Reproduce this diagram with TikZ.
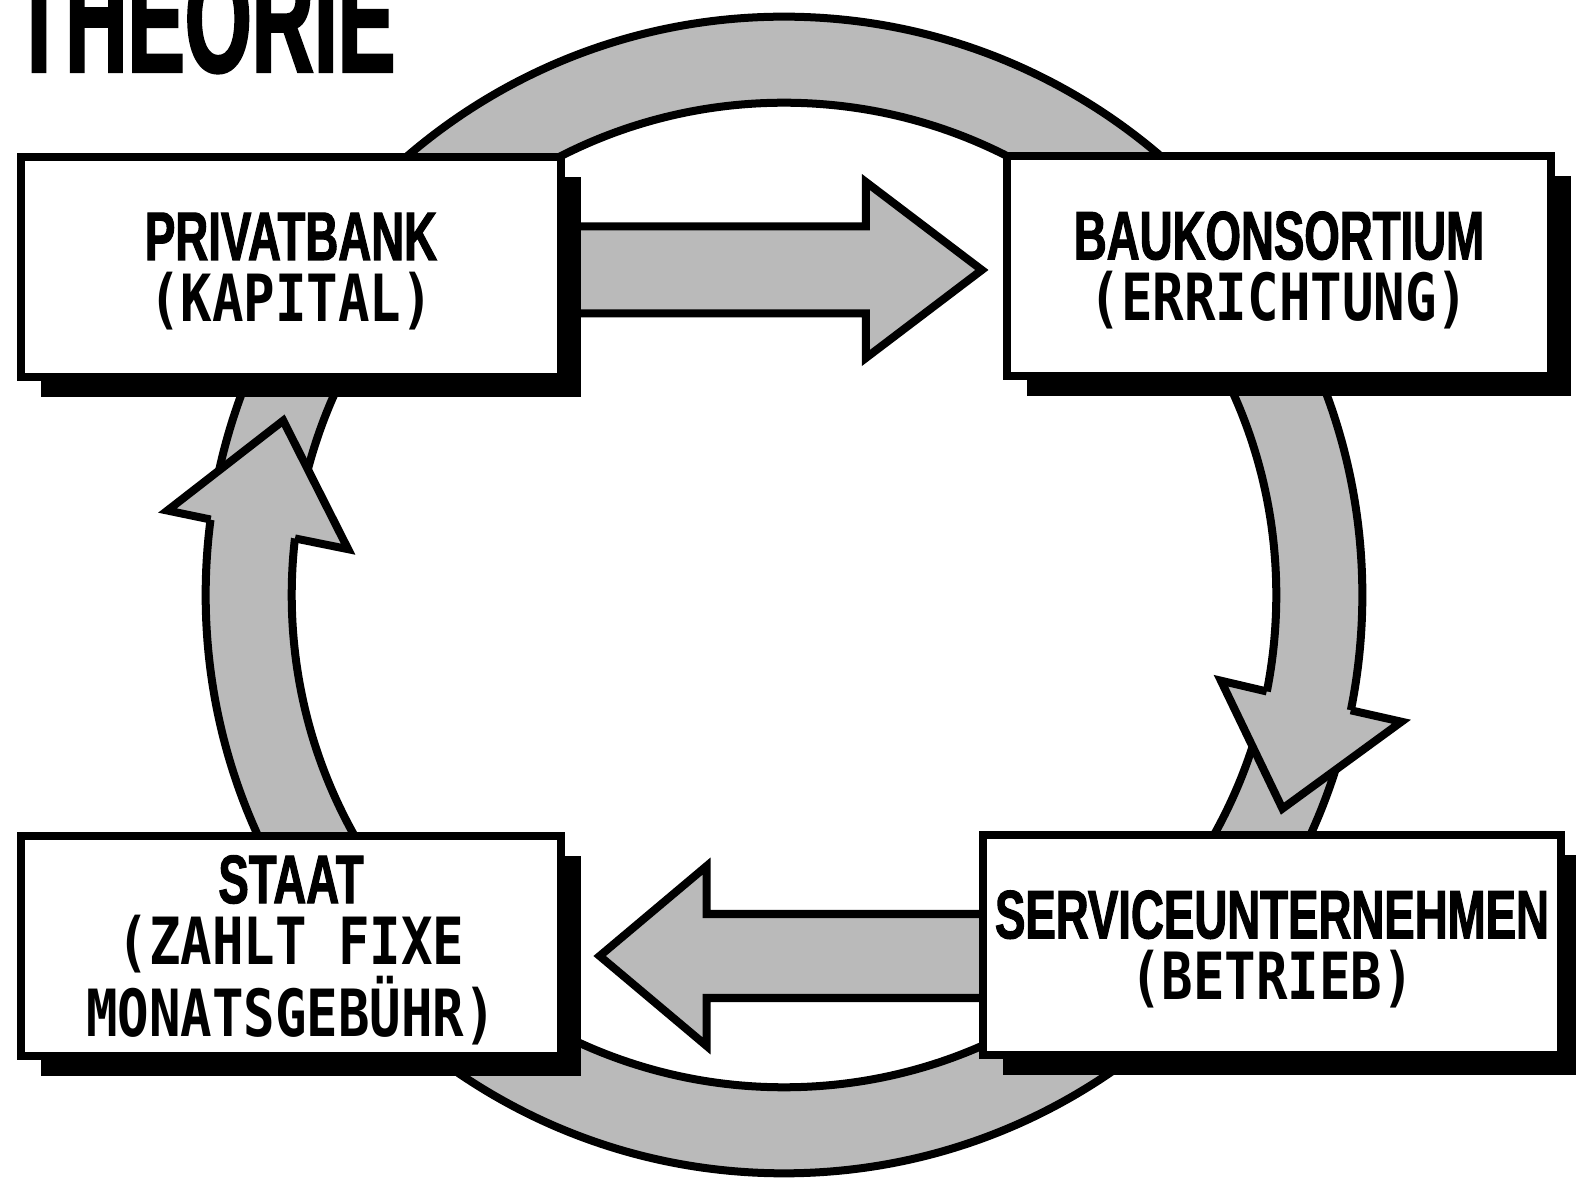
\documentclass[tikz,border=0pt]{standalone}
\usepackage{fontspec}
\newfontfamily\titelfamilie[FakeStretch=0.56,FakeBold=1.5]{Liberation Sans}
\newfontfamily\kopffamilie[FakeStretch=0.665,FakeBold=1.5]{Liberation Sans}
\newfontfamily\klammerfamilie[FakeStretch=0.805]{DejaVu Sans Mono}
\usetikzlibrary{calc,shadows,backgrounds}
\newcommand\kopf[1]{{\kopffamilie\bfseries\fontsize{19.5pt}{17.4pt}\selectfont #1}}
\newcommand\klammer[1]{{\klammerfamilie\bfseries\fontsize{18.5pt}{17.4pt}\selectfont #1}}
\begin{document}
\begin{tikzpicture}[x=0.01cm,y=-0.01cm,
    kasten/.style={draw, line width=0.08cm, fill=white, minimum height=2.2cm, align=center,
      text depth=0pt, font=\fontsize{18pt}{17.4pt}\selectfont,
      drop shadow={shadow xshift=0.2cm, shadow yshift=-0.2cm, fill=black, opacity=1}},
    breitpfeil/.style={draw, line width=0.08cm, fill=black!27, miter limit=10}]
          \useasboundingbox (0,0) rectangle (1576,1183);
          \coordinate (mitte) at (784,595);
          \node[font=\titelfamilie\bfseries\fontsize{43.7pt}{44pt}\selectfont, anchor=base west, inner sep=0pt] (titel) at (12,72) {THEORIE};
          \node[kasten, minimum width=5.39cm] (bank) at (291,267) {\kopf{PRIVATBANK}\\\klammer{(KAPITAL)}};
          \node[kasten, minimum width=5.44cm] (bau) at (1279,266) {\kopf{BAUKONSORTIUM}\\\klammer{(ERRICHTUNG)}};
          \node[kasten, minimum width=5.67cm] (service) at (1272,945) {\kopf{SERVICEUNTERNEHMEN}\\\klammer{(BETRIEB)}};
          \node[kasten, minimum width=5.39cm, text depth=-3pt] (staat) at (291,946) {\kopf{STAAT}\\\klammer{(ZAHLT FIXE}\\\klammer{MONATSGEBÜHR)}};
          \begin{pgfonlayer}{background}
            \fill[white] (0,0) rectangle (1576,1183);
            % Kreislauf
            \draw[breitpfeil, even odd rule] (mitte) circle [radius=5.78cm] (mitte) circle [radius=4.92cm];
            \filldraw[breitpfeil] ($(mitte)+(172.5:5.78cm)$) -- ($(mitte)+(172.2:6.22cm)$) -- ($(mitte)+(160.8:5.3cm)$) -- ($(mitte)+(174:4.38cm)$) -- ($(mitte)+(173.4:4.92cm)$);
            \filldraw[breitpfeil] ($(mitte)+(-11.3:4.92cm)$) -- ($(mitte)+(-11.1:4.45cm)$) -- ($(mitte)+(-23.2:5.42cm)$) -- ($(mitte)+(-11.6:6.3cm)$) -- ($(mitte)+(-11.5:5.78cm)$);
            % Pfeile zwischen den Kaesten
            \draw[breitpfeil] ($(bau.west)+(-21,4)$) -- ++(-116,-88) -- ++(0,44.5) -- ++(-420,0) -- ++(0,87) -- ++(420,0) -- ++(0,44.5) -- cycle;
            \draw[breitpfeil] ($(staat.east)+(35,10)$) -- ++(107,-90) -- ++(0,48) -- ++(400,0) -- ++(0,84) -- ++(-400,0) -- ++(0,48) -- cycle;
          \end{pgfonlayer}
        \end{tikzpicture}
\end{document}
